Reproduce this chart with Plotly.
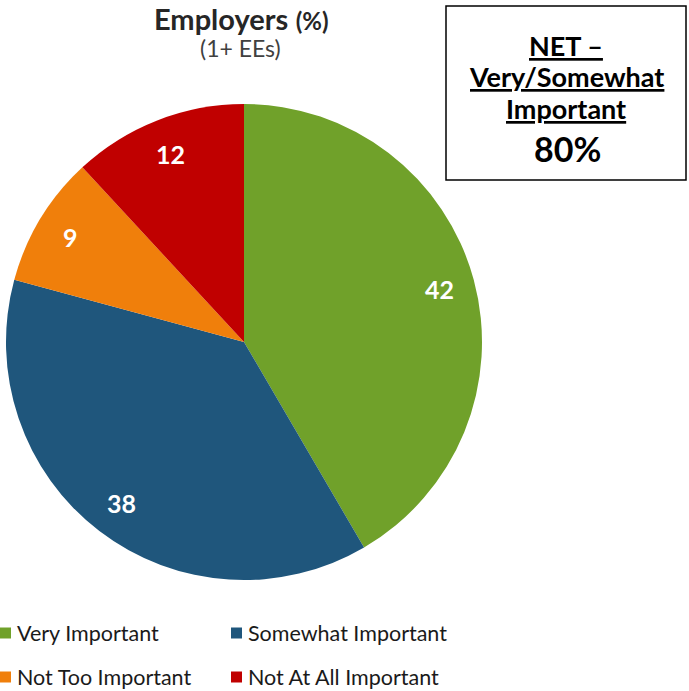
import math
import plotly.graph_objects as go

labels = ["Very Important", "Somewhat Important", "Not Too Important", "Not At All Important"]
values = [42, 38, 9, 12]
colors = ["#70A12A", "#1F567C", "#F07F0B", "#C00000"]
title_main = "Employers"
title_unit = "(%)"
subtitle = "(1+ EEs)"
net_label = ["NET –", "Very/Somewhat", "Important"]
net_value = "80%"

W, H = 689, 691
FONT = "Lato"

# pie geometry (pixels)
CX, CY, R = 244, 342, 238


def px(x):
    return x / W


def py(y):
    return 1 - y / H


fig = go.Figure()
fig.add_trace(go.Pie(
    labels=labels,
    values=values,
    sort=False,
    direction="clockwise",
    rotation=0,
    marker=dict(colors=colors, line=dict(color="white", width=0)),
    textinfo="none",
    hoverinfo="label+value",
    showlegend=False,
    domain=dict(x=[px(CX - R), px(CX + R)], y=[py(CY + R), py(CY - R)]),
))

annotations = []


def ann(x, y, text, size, color, xanchor="center", **kw):
    annotations.append(dict(x=px(x), y=py(y), xref="paper", yref="paper", showarrow=False,
                            xanchor=xanchor, yanchor="middle", text=text,
                            font=dict(family=FONT, size=size, color=color), **kw))


# slice value labels, placed from data along each slice's mid angle
total = sum(values)
cum = 0
for v in values:
    mid = (cum + v / 2) / total * 2 * math.pi
    cum += v
    ann(CX + 0.85 * R * math.sin(mid), CY - 0.85 * R * math.cos(mid), f"<b>{v}</b>", 25, "white")

ann(241, 18, f"<b>{title_main}</b> <b><span style='font-size:24px'>{title_unit}</span></b>", 29, "#262626")
ann(240, 48, subtitle, 23, "#404040")
for t, yy in zip(net_label, [45, 77, 108]):
    ann(566, yy, f"<u><b>{t}</b></u>", 27, "black")
ann(567, 149, f"<b>{net_value}</b>", 34, "black")

shapes = [dict(type="rect", xref="paper", yref="paper",
               x0=px(446), x1=px(686), y0=py(180), y1=py(6),
               line=dict(color="black", width=1.5))]

# legend (2 columns)
col_x = [0, 231]
row_y = [633, 677]
for i, (lab, col) in enumerate(zip(labels, colors)):
    sx = col_x[i % 2]
    sy = row_y[i // 2]
    shapes.append(dict(type="rect", xref="paper", yref="paper",
                       x0=px(sx), x1=px(sx + 11), y0=py(sy + 5.5), y1=py(sy - 5.5),
                       fillcolor=col, line=dict(width=0)))
    ann(sx + 15, sy, lab, 21.5, "#1a1a1a", xanchor="left")

fig.update_layout(
    width=W, height=H,
    margin=dict(l=0, r=0, t=0, b=0),
    paper_bgcolor="white", plot_bgcolor="white",
    font=dict(family=FONT),
    annotations=annotations,
    shapes=shapes,
    showlegend=False,
)

fig.write_html("out.html", config={"displayModeBar": False},
               post_script="document.body.style.margin='0';")
